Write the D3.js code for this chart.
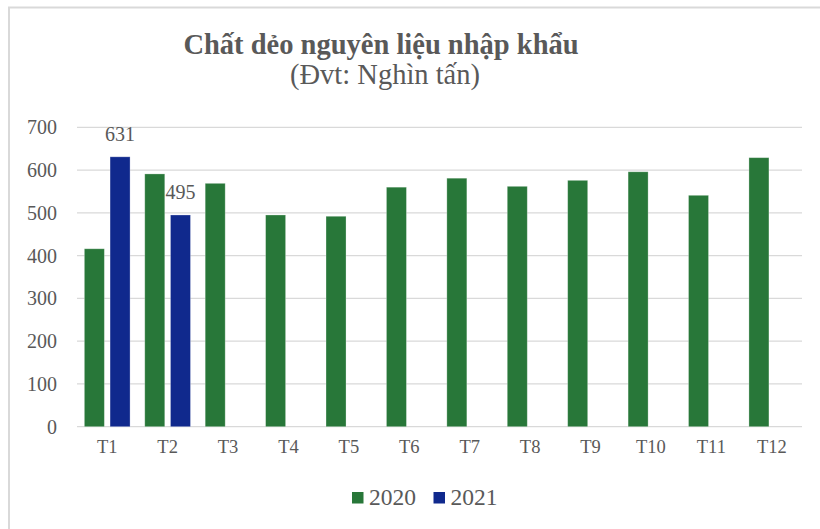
<!DOCTYPE html>
<html>
<head>
<meta charset="utf-8">
<script src="https://cdn.jsdelivr.net/npm/d3@7"></script>
<style>
    body { margin: 0; background: #fff; }
    svg { display: block; }
</style>
</head>
<body>
<div id="chart"></div>
<script>
// data
const months = ["T1", "T2", "T3", "T4", "T5", "T6", "T7", "T8", "T9", "T10", "T11", "T12"];
const seriesNames = ["2020", "2021"];
const values2020 = [416, 591, 569, 495, 492, 560, 581, 562, 576, 596, 541, 629];
const values2021 = [631, 495];
const yTicks = [0, 100, 200, 300, 400, 500, 600, 700];
const title = "Chất dẻo nguyên liệu nhập khẩu";
const subtitle = "(Đvt: Nghìn tấn)";

var options = {
    width: 820,
    height: 529,
    plot: { left: 77, right: 802, top: 127.3, bottom: 426.7 },
    colors: { "2020": "#287739", "2021": "#10298D" },
    grid: "#d9d9d9",
    font: "'Liberation Serif', 'Times New Roman', Times, serif",
    textColor: "#595959",
};

var bars = [];
values2020.forEach((v, i) => bars.push({ month: months[i], series: "2020", value: v }));
values2021.forEach((v, i) => bars.push({ month: months[i], series: "2021", value: v }));

var svg = d3.select("#chart").append("svg")
    .attr("width", options.width)
    .attr("height", options.height);

// helper so every text gets the serif face and grey fill
var styleText = sel => sel
    .style("font-family", options.font)
    .style("fill", options.textColor);

// chart border (only top and left are visible in the frame)
svg.append("path")
    .attr("d", "M9,530 L9,7.5 L821,7.5")
    .attr("fill", "none")
    .attr("stroke", "#d9d9d9")
    .attr("stroke-width", 2);

// scales
var xScale = d3.scaleBand()
    .domain(months)
    .range([options.plot.left, options.plot.right])
    .padding(0);

var xInner = d3.scaleBand()
    .domain(seriesNames)
    .range([0, xScale.bandwidth()])
    .paddingInner(0.222)
    .paddingOuter(0.286);

var yScale = d3.scaleLinear()
    .domain([0, 700])
    .range([options.plot.bottom, options.plot.top]);

// grid
svg.append("g")
    .selectAll("line")
    .data(yTicks)
    .join("line")
    .attr("x1", options.plot.left)
    .attr("x2", options.plot.right)
    .attr("y1", d => yScale(d))
    .attr("y2", d => yScale(d))
    .attr("stroke", options.grid)
    .attr("stroke-width", 1.2);

// y axis
var yAxis = svg.append("g")
    .attr("transform", `translate(${options.plot.left - 14},0)`)
    .call(d3.axisLeft(yScale).tickValues(yTicks).tickSize(0).tickPadding(6));
yAxis.attr("font-family", null).attr("font-size", null);
yAxis.select(".domain").remove();
yAxis.selectAll("text")
    .attr("font-size", 20)
    .call(styleText);

// x axis
var xAxis = svg.append("g")
    .attr("transform", `translate(0,${options.plot.bottom})`)
    .call(d3.axisBottom(xScale).tickSize(0).tickPadding(13));
xAxis.attr("font-family", null).attr("font-size", null);
xAxis.select(".domain").remove();
xAxis.selectAll("text")
    .attr("font-size", 18.5)
    .call(styleText);

// bars
svg.append("g")
    .selectAll("rect")
    .data(bars)
    .join("rect")
    .attr("x", d => xScale(d.month) + xInner(d.series))
    .attr("y", d => yScale(d.value))
    .attr("width", xInner.bandwidth())
    .attr("height", d => yScale(0) - yScale(d.value))
    .attr("fill", d => options.colors[d.series])
    .attr("stroke", "#ffffff")
    .attr("stroke-opacity", 0.35)
    .attr("stroke-width", 0.8);

// data labels for 2021
svg.append("g")
    .selectAll("text")
    .data(bars.filter(d => d.series == "2021"))
    .join("text")
    .attr("x", d => xScale(d.month) + xInner(d.series) + xInner.bandwidth() / 2)
    .attr("y", d => yScale(d.value) - 16)
    .attr("text-anchor", "middle")
    .attr("font-size", 20)
    .call(styleText)
    .text(d => d.value);

// title
svg.append("text")
    .attr("x", 381)
    .attr("y", 54)
    .attr("text-anchor", "middle")
    .attr("font-size", 28.5)
    .attr("font-weight", "bold")
    .call(styleText)
    .text(title);

svg.append("text")
    .attr("x", 385)
    .attr("y", 84)
    .attr("text-anchor", "middle")
    .attr("font-size", 28.5)
    .call(styleText)
    .text(subtitle);

// legend
var legend = svg.append("g")
    .selectAll("g")
    .data(seriesNames)
    .join("g")
    .attr("transform", (d, i) => `translate(${352 + i * 81.5},492)`);

legend.append("rect")
    .attr("width", 11.5)
    .attr("height", 11.5)
    .attr("fill", d => options.colors[d]);

legend.append("text")
    .attr("x", 17)
    .attr("y", 13)
    .attr("font-size", 23.5)
    .call(styleText)
    .text(d => d);
</script>
</body>
</html>
